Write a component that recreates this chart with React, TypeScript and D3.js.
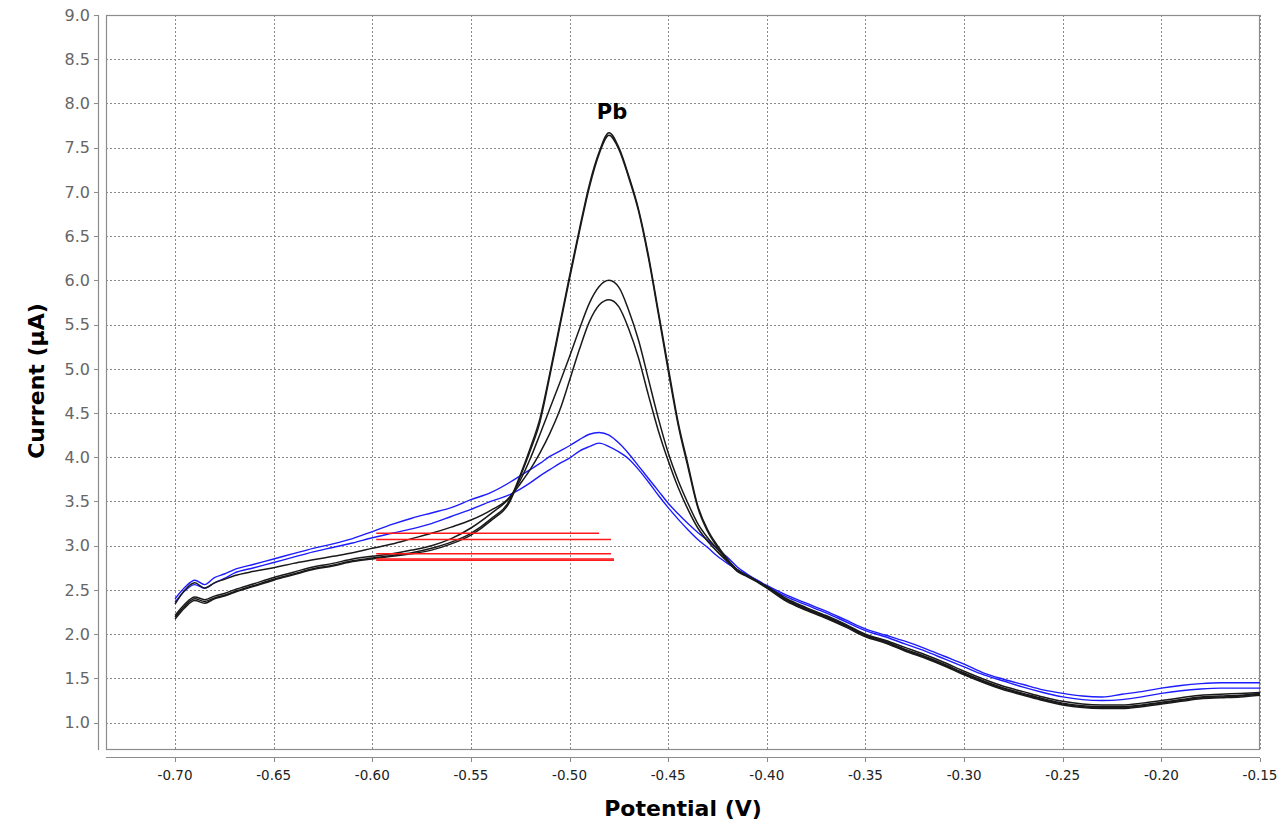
import React from "react";
import * as d3 from "d3";

const potentials = [
  -0.70, -0.695, -0.69, -0.685, -0.68, -0.675,
  -0.67, -0.66, -0.65, -0.64, -0.63, -0.62, -0.61, -0.60, -0.59, -0.58, -0.57, -0.56, -0.55, -0.54, -0.53,
  -0.525, -0.52, -0.515, -0.51, -0.505, -0.50, -0.495, -0.49, -0.485, -0.48, -0.475, -0.47, -0.465, -0.46,
  -0.455, -0.45, -0.445, -0.44, -0.435, -0.43, -0.425, -0.42, -0.415, -0.41, -0.405, -0.40,
  -0.39, -0.38, -0.37, -0.36, -0.35, -0.34, -0.33, -0.32, -0.31, -0.30, -0.29, -0.28, -0.27, -0.26,
  -0.25, -0.24, -0.23, -0.22, -0.21, -0.20, -0.19, -0.18, -0.17, -0.16, -0.15,
];

const blackA = [
  2.19, 2.32, 2.40, 2.37, 2.41, 2.44,
  2.48, 2.55, 2.62, 2.68, 2.74, 2.78, 2.83, 2.86, 2.89, 2.92, 2.97, 3.04, 3.14, 3.30, 3.53,
  3.80, 4.10, 4.44, 4.95, 5.50, 6.05, 6.58, 7.08, 7.45, 7.67, 7.50, 7.18, 6.80, 6.28, 5.65, 5.02, 4.40,
  3.92, 3.45, 3.18, 3.00, 2.85, 2.72, 2.66, 2.60, 2.53,
  2.39, 2.29, 2.20, 2.10, 1.99, 1.92, 1.83, 1.75, 1.66, 1.56, 1.47, 1.39, 1.33, 1.27, 1.22, 1.19, 1.18,
  1.18, 1.20, 1.23, 1.26, 1.29, 1.30, 1.31, 1.33,
];

const blackA2 = [
  2.17, 2.30, 2.38, 2.35, 2.40, 2.43,
  2.47, 2.54, 2.61, 2.67, 2.73, 2.77, 2.82, 2.85, 2.88, 2.91, 2.95, 3.02, 3.12, 3.28, 3.51,
  3.78, 4.07, 4.40, 4.92, 5.47, 6.02, 6.55, 7.05, 7.43, 7.64, 7.48, 7.16, 6.78, 6.25, 5.62, 4.98, 4.37,
  3.89, 3.43, 3.16, 2.98, 2.83, 2.71, 2.65, 2.59, 2.52,
  2.37, 2.27, 2.18, 2.08, 1.97, 1.90, 1.81, 1.73, 1.64, 1.54, 1.45, 1.37, 1.31, 1.25, 1.20, 1.17, 1.16,
  1.16, 1.18, 1.21, 1.24, 1.27, 1.28, 1.29, 1.31,
];

const blackB = [
  2.34, 2.50, 2.58, 2.52, 2.58, 2.62,
  2.66, 2.71, 2.75, 2.80, 2.84, 2.88, 2.92, 2.97, 3.02, 3.08, 3.14, 3.21, 3.29, 3.40, 3.56,
  3.74, 3.98, 4.26, 4.55, 4.84, 5.14, 5.45, 5.74, 5.93, 6.00, 5.92, 5.66, 5.32, 4.88, 4.44, 4.05, 3.74,
  3.48, 3.25, 3.09, 2.96, 2.84, 2.73, 2.66, 2.60, 2.54,
  2.40, 2.30, 2.21, 2.11, 2.00, 1.93, 1.85, 1.77, 1.68, 1.58, 1.49, 1.41, 1.35, 1.29, 1.24, 1.21, 1.20,
  1.20, 1.22, 1.25, 1.28, 1.31, 1.32, 1.33, 1.34,
];

const blackC = [
  2.21, 2.34, 2.42, 2.39, 2.43, 2.46,
  2.50, 2.57, 2.64, 2.70, 2.76, 2.80, 2.85, 2.88, 2.91, 2.95, 3.00, 3.08, 3.20, 3.36, 3.55,
  3.70, 3.86, 4.05, 4.27, 4.53, 4.87, 5.22, 5.53, 5.72, 5.78, 5.70, 5.45, 5.12, 4.70, 4.30, 3.96, 3.66,
  3.41, 3.20, 3.05, 2.93, 2.82, 2.72, 2.66, 2.60, 2.53,
  2.38, 2.28, 2.19, 2.09, 1.98, 1.91, 1.82, 1.74, 1.65, 1.55, 1.46, 1.38, 1.32, 1.26, 1.21, 1.18, 1.17,
  1.17, 1.19, 1.22, 1.25, 1.28, 1.29, 1.30, 1.32,
];

const blue1 = [
  2.40, 2.53, 2.61, 2.56, 2.64, 2.68,
  2.73, 2.79, 2.85, 2.91, 2.97, 3.02, 3.08, 3.16, 3.24, 3.31, 3.37, 3.43, 3.52, 3.60, 3.72,
  3.79, 3.86, 3.93, 4.01, 4.07, 4.13, 4.20, 4.26, 4.28, 4.25, 4.16, 4.04, 3.90, 3.76, 3.62, 3.48, 3.36,
  3.25, 3.15, 3.06, 2.96, 2.87, 2.76, 2.68, 2.61, 2.55,
  2.44, 2.35, 2.26, 2.16, 2.06, 1.99, 1.92, 1.84, 1.75, 1.66, 1.56, 1.49, 1.43, 1.37, 1.33, 1.30, 1.29,
  1.32, 1.35, 1.39, 1.42, 1.44, 1.45, 1.45, 1.45,
];

const blue2 = [
  2.36, 2.49, 2.56, 2.52, 2.58, 2.63,
  2.69, 2.75, 2.81, 2.87, 2.93, 2.98, 3.03, 3.09, 3.14, 3.19, 3.25, 3.33, 3.41, 3.50, 3.58,
  3.64, 3.71, 3.79, 3.86, 3.93, 3.99, 4.07, 4.12, 4.16, 4.12, 4.06, 3.98, 3.86, 3.72, 3.57, 3.43, 3.30,
  3.18, 3.07, 2.98, 2.88, 2.80, 2.73, 2.67, 2.61, 2.54,
  2.42, 2.33, 2.24, 2.14, 2.04, 1.97, 1.89, 1.81, 1.72, 1.63, 1.54, 1.47, 1.40, 1.34, 1.29, 1.26, 1.25,
  1.26, 1.29, 1.33, 1.36, 1.38, 1.39, 1.39, 1.39,
];

const baselineLevels = [3.14, 3.07, 2.91, 2.85, 2.835];
const baselineStarts = [-0.598, -0.598, -0.598, -0.598, -0.598];
const baselineEnds = [-0.485, -0.479, -0.479, -0.4775, -0.4775];

const yTicks = [1.0, 1.5, 2.0, 2.5, 3.0, 3.5, 4.0, 4.5, 5.0, 5.5, 6.0, 6.5, 7.0, 7.5, 8.0, 8.5, 9.0];
const xTicks = [-0.70, -0.65, -0.60, -0.55, -0.50, -0.45, -0.40, -0.35, -0.30, -0.25, -0.20, -0.15];

const peakLabel = "Pb";
const peakLabelPos = { v: -0.4785, c: 7.82 };

const blackSeries = [blackA, blackA2, blackB, blackC];
const blueSeries = [blue1, blue2];

export default function App() {
  const W = 1278;
  const H = 824;
  const left = 106;
  const right = 1260;
  const top = 15;
  const bottom = 750;

  const x = d3.scaleLinear().domain([-0.735, -0.15]).range([left, right]);
  const y = d3.scaleLinear().domain([0.69, 9.0]).range([bottom, top]);

  const line = d3
    .line<number>()
    .x((_, i) => x(potentials[i]))
    .y((d) => y(d))
    .curve(d3.curveMonotoneX);

  const fontFamily = "'DejaVu Sans', Verdana, sans-serif";

  return (
    <svg
      width={W}
      height={H}
      style={{ position: "absolute", left: 0, top: 0, background: "#fff" }}
    >
      <defs>
        <clipPath id="plotClip">
          <rect x={left} y={top} width={right - left} height={bottom - top} />
        </clipPath>
      </defs>
      <rect x={0} y={0} width={W} height={H} fill="#fff" />
      {yTicks.map((t) => (
        <line
          key={"gy" + t}
          x1={left}
          x2={right}
          y1={Math.round(y(t)) + 0.5}
          y2={Math.round(y(t)) + 0.5}
          stroke="#8a8a8a"
          strokeWidth={1}
          strokeDasharray="2,2"
        />
      ))}
      {xTicks.map((t) => (
        <line
          key={"gx" + t}
          x1={Math.round(x(t)) + 0.5}
          x2={Math.round(x(t)) + 0.5}
          y1={top}
          y2={bottom}
          stroke="#8a8a8a"
          strokeWidth={1}
          strokeDasharray="2,2"
        />
      ))}
      <rect
        x={left + 0.5}
        y={top + 0.5}
        width={right - left - 1}
        height={bottom - top - 1}
        fill="none"
        stroke="#8c8c8c"
        strokeWidth={1.2}
      />
      <g clipPath="url(#plotClip)">
        {blueSeries.map((s, i) => (
          <path key={"b" + i} d={line(s) || ""} fill="none" stroke="#1c1cff" strokeWidth={1.4} />
        ))}
        {blackSeries.map((s, i) => (
          <path key={"k" + i} d={line(s) || ""} fill="none" stroke="#1a1a1a" strokeWidth={1.5} />
        ))}
        {baselineLevels.map((lv, i) => (
          <line
            key={"r" + i}
            x1={x(baselineStarts[i])}
            x2={x(baselineEnds[i])}
            y1={y(lv)}
            y2={y(lv)}
            stroke="#ff1a1a"
            strokeWidth={1.5}
          />
        ))}
      </g>
      <line x1={98.5} x2={98.5} y1={top} y2={bottom} stroke="#8c8c8c" strokeWidth={1.2} />
      {yTicks.map((t) => (
        <g key={"yt" + t}>
          <line x1={94} x2={98} y1={Math.round(y(t)) + 0.5} y2={Math.round(y(t)) + 0.5} stroke="#8c8c8c" />
          <text
            x={90}
            y={y(t)}
            dy="0.36em"
            textAnchor="end"
            fontFamily={fontFamily}
            fontSize={16}
            fill="#666"
          >
            {t.toFixed(1)}
          </text>
        </g>
      ))}
      <line x1={left} x2={right} y1={757.5} y2={757.5} stroke="#8c8c8c" strokeWidth={1.2} />
      {xTicks.map((t) => (
        <g key={"xt" + t}>
          <line x1={Math.round(x(t)) + 0.5} x2={Math.round(x(t)) + 0.5} y1={758} y2={762} stroke="#8c8c8c" />
          <text
            x={x(t)}
            y={780}
            textAnchor="middle"
            fontFamily={fontFamily}
            fontSize={13.5}
            fill="#222"
          >
            {t.toFixed(2)}
          </text>
        </g>
      ))}
      <text
        x={683}
        y={816}
        textAnchor="middle"
        fontFamily={fontFamily}
        fontWeight="bold"
        fontSize={22}
        fill="#000"
      >
        Potential (V)
      </text>
      <text
        transform={`translate(44, 381) rotate(-90)`}
        textAnchor="middle"
        fontFamily={fontFamily}
        fontWeight="bold"
        fontSize={22}
        fill="#000"
      >
        Current (µA)
      </text>
      <text
        x={x(peakLabelPos.v)}
        y={y(peakLabelPos.c)}
        textAnchor="middle"
        fontFamily={fontFamily}
        fontWeight="bold"
        fontSize={21}
        fill="#000"
      >
        {peakLabel}
      </text>
    </svg>
  );
}
